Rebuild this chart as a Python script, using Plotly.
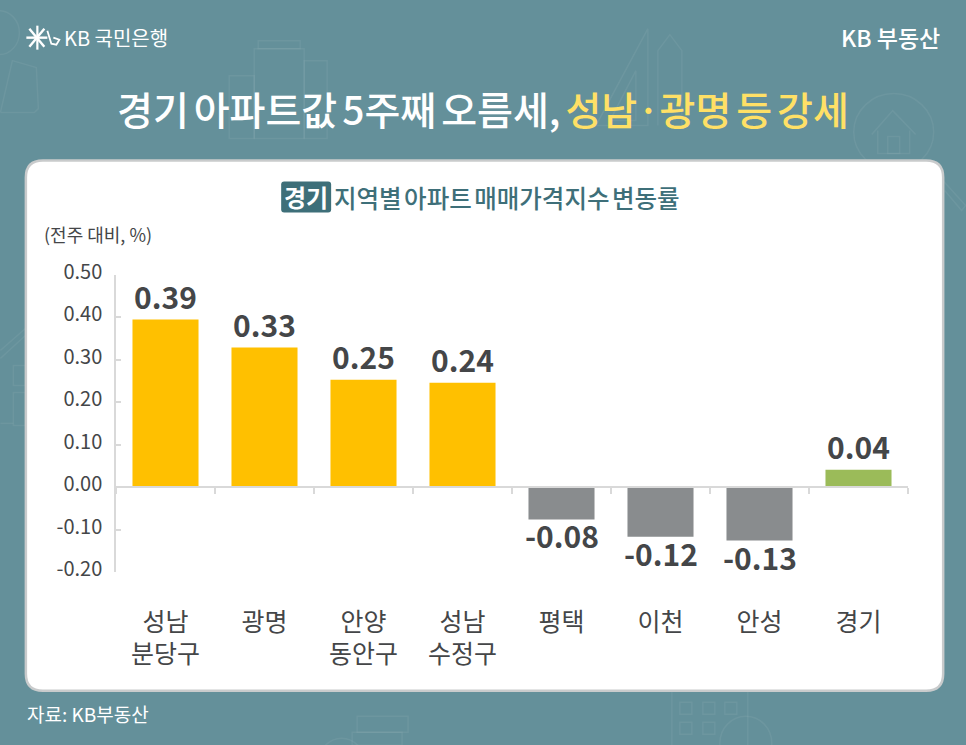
import plotly.graph_objs as go

regions = ['성남<br>분당구', '광명', '안양<br>동안구', '성남<br>수정구', '평택', '이천', '안성', '경기']
bar_values = [0.395, 0.329, 0.253, 0.246, -0.076, -0.117, -0.126, 0.041]
bar_labels = ['0.39', '0.33', '0.25', '0.24', '-0.08', '-0.12', '-0.13', '0.04']
bar_colors = ['#FFC000', '#FFC000', '#FFC000', '#FFC000', '#898C8E', '#898C8E', '#898C8E', '#9BBB59']
y_ticks = [0.5, 0.4, 0.3, 0.2, 0.1, 0, -0.1, -0.2]
y_tick_labels = ['0.50', '0.40', '0.30', '0.20', '0.10', '0.00', '-0.10', '-0.20']

W, H = 966, 745
ML, MR, MT, MB = 115.7, 57.7, 274.5, 173.3
FONT = 'Noto Sans CJK KR'
BG = '#64909A'
DARK = '#444648'
DECO = 'rgba(255,255,255,0.06)'


# pixel position on the page -> paper fraction
def px(x):
    return (x - ML) / (W - ML - MR)


def py(y):
    return 1 - (y - MT) / (H - MT - MB)


# the reference sets its spaces narrow, so shrink just those
def tight(s, size):
    return s.replace(' ', f'<span style="font-size:{size:.0f}px"> </span>')


def text(x, y, s, size, color, anchor='left', weight=400):
    return dict(x=px(x), y=py(y), xref='paper', yref='paper', text=s, showarrow=False,
                xanchor=anchor, yanchor='middle', align=anchor,
                font=dict(family=FONT, size=size, color=color, weight=weight))


def box(x0, y0, x1, y1, color=DECO, width=1.5, fill=None, layer='below'):
    return dict(type='rect', xref='paper', yref='paper', x0=px(x0), y0=py(y0), x1=px(x1), y1=py(y1),
                line=dict(color=color, width=width), fillcolor=fill, layer=layer)


def ring(x0, y0, x1, y1, color=DECO, width=1.5):
    return dict(type='circle', xref='paper', yref='paper', x0=px(x0), y0=py(y0), x1=px(x1), y1=py(y1),
                line=dict(color=color, width=width), layer='below')


def path(points, color=DECO, width=1.5, closed=False, fill=None):
    d = 'M ' + ' L '.join(f'{px(a):.5f},{py(b):.5f}' for a, b in points)
    if closed:
        d += ' Z'
    return dict(type='path', xref='paper', yref='paper', path=d, line=dict(color=color, width=width),
                fillcolor=fill, layer='below')


def rounded(x0, y0, x1, y1, r):
    # card outline with corners built from quadratic curves
    p = lambda a, b: f'{px(a):.5f},{py(b):.5f}'
    return ('M ' + p(x0 + r, y0) + ' L ' + p(x1 - r, y0) + ' Q ' + p(x1, y0) + ' ' + p(x1, y0 + r)
            + ' L ' + p(x1, y1 - r) + ' Q ' + p(x1, y1) + ' ' + p(x1 - r, y1)
            + ' L ' + p(x0 + r, y1) + ' Q ' + p(x0, y1) + ' ' + p(x0, y1 - r)
            + ' L ' + p(x0, y0 + r) + ' Q ' + p(x0, y0) + ' ' + p(x0 + r, y0) + ' Z')


fig = go.Figure(go.Bar(
    x=regions,
    y=bar_values,
    marker=dict(color=bar_colors, line=dict(width=0)),
    width=0.667,
    cliponaxis=False,
))

# faint icons on the background
shapes = [
    ring(-22, 10, 19, 54),
    path([(0, 112), (12, 60), (36, 67), (38, 108), (34, 112), (0, 112)]),
    box(254, 48, 304, 138), box(258, 40, 300, 48),
    box(229, 75, 254, 138), box(304, 60, 327, 138),
    path([(648, 28), (648, 125), (596, 125), (648, 28)]),
    path([(636, 70), (636, 120), (610, 120), (636, 70)]),
    path([(658, 125), (658, 50), (670, 34), (682, 50), (682, 125)]),
    ring(854, 93, 934, 170),
    path([(872, 134), (893, 110), (916, 134)]),
    path([(878, 130), (878, 153), (910, 153), (910, 130)]),
    box(888, 136, 900, 153),
    path([(925, 160), (966, 205)]), path([(945, 190), (962, 210), (966, 205)]),
    path([(0, 358), (25, 335)]), path([(0, 350), (25, 328)]),
    box(13, 365, 25, 385), box(13, 392, 25, 425), path([(0, 423), (13, 423)]),
    box(357, 716, 408, 732), box(352, 732, 402, 745),
    ring(318, 738, 365, 790),
    box(672, 690, 748, 760),
    box(680, 702, 692, 714), box(703, 702, 715, 714), box(725, 702, 737, 714),
    box(680, 722, 692, 734), box(703, 722, 715, 734),
    ring(720, 716, 772, 770),
    # card
    dict(type='path', xref='paper', yref='paper', path=rounded(25.5, 160, 943.5, 690.5, 17),
         fillcolor='white', line=dict(color='#C9CBCC', width=2.5), layer='below'),
    # badge behind 경기
    dict(type='path', xref='paper', yref='paper', path=rounded(281, 181, 331, 212, 3),
         fillcolor='#3E6F79', line=dict(width=0), layer='below'),
    # logo mark
    path([(26, 37), (47, 37)], '#FFFFFF', 2.4),
    path([(29, 28), (44, 46)], '#FFFFFF', 2.4),
    path([(29, 46), (44, 28)], '#FFFFFF', 2.4),
    path([(37, 25), (37, 49)], '#FFFFFF', 2.2),
    path([(47, 30), (51, 43), (56, 44), (59, 39), (53, 37)], '#FFFFFF', 1.8),
]

title_white = tight('경기 아파트값 5주째 오름세, ', 22)
title_yellow = tight('성남·광명 등 강세', 22)

annotations = [
    text(62, 37, 'KB 국민은행', 20, '#FFFFFF'),
    text(942, 36, 'KB 부동산', 23, '#FFFFFF', 'right', 500),
    text(483, 107, title_white + f'<span style="color:#FFE066">{title_yellow}</span>',
         39, '#FFFFFF', 'center', 500),
    text(306, 196, '경기', 24, '#FFFFFF', 'center', 700),
    text(332, 197, tight('지역별 아파트 매매가격지수 변동률', 11), 24.5, '#3E6F79', 'left', 500),
    text(42, 233, '(전주 대비, %)', 18, DARK),
    text(25, 713, '자료: KB부동산', 19, '#FFFFFF'),
]

# value labels sit on the bar ends
for name, value, label in zip(regions, bar_values, bar_labels):
    annotations.append(dict(
        x=name, y=value, xref='x', yref='y', text=label, showarrow=False,
        xanchor='center', yanchor='middle', yshift=24 if value > 0 else -16,
        font=dict(family=FONT, size=30, color=DARK, weight=700),
    ))

fig.update_layout(
    width=W, height=H,
    margin=dict(l=ML, r=MR, t=MT, b=MB, pad=0),
    paper_bgcolor=BG, plot_bgcolor='rgba(0,0,0,0)',
    showlegend=False,
    bargap=0.333,
    shapes=shapes,
    annotations=annotations,
    font=dict(family=FONT, color=DARK),
)
fig.update_xaxes(
    type='category', anchor='free', position=0.2 / 0.7,
    showgrid=False, zeroline=False,
    showline=True, linecolor='#D9D9D9', linewidth=1.5,
    ticks='outside', tickson='boundaries', ticklen=6, tickcolor='#D9D9D9', tickwidth=1.5,
    ticklabelstandoff=113, tickangle=0,
    tickfont=dict(family=FONT, size=25, color=DARK),
)
fig.update_yaxes(
    range=[-0.2, 0.5], tickvals=y_ticks, ticktext=y_tick_labels,
    showgrid=False, zeroline=False,
    showline=True, linecolor='#D9D9D9', linewidth=1.5,
    ticks='inside', ticklen=5, tickcolor='#D9D9D9', tickwidth=1.5,
    ticklabelstandoff=8, ticklabelshift=-3,
    tickfont=dict(family=FONT, size=20, color=DARK),
)

fig.write_html("out.html", config={'displayModeBar': False},
               post_script="document.body.style.margin='0';document.body.style.overflow='hidden';")
